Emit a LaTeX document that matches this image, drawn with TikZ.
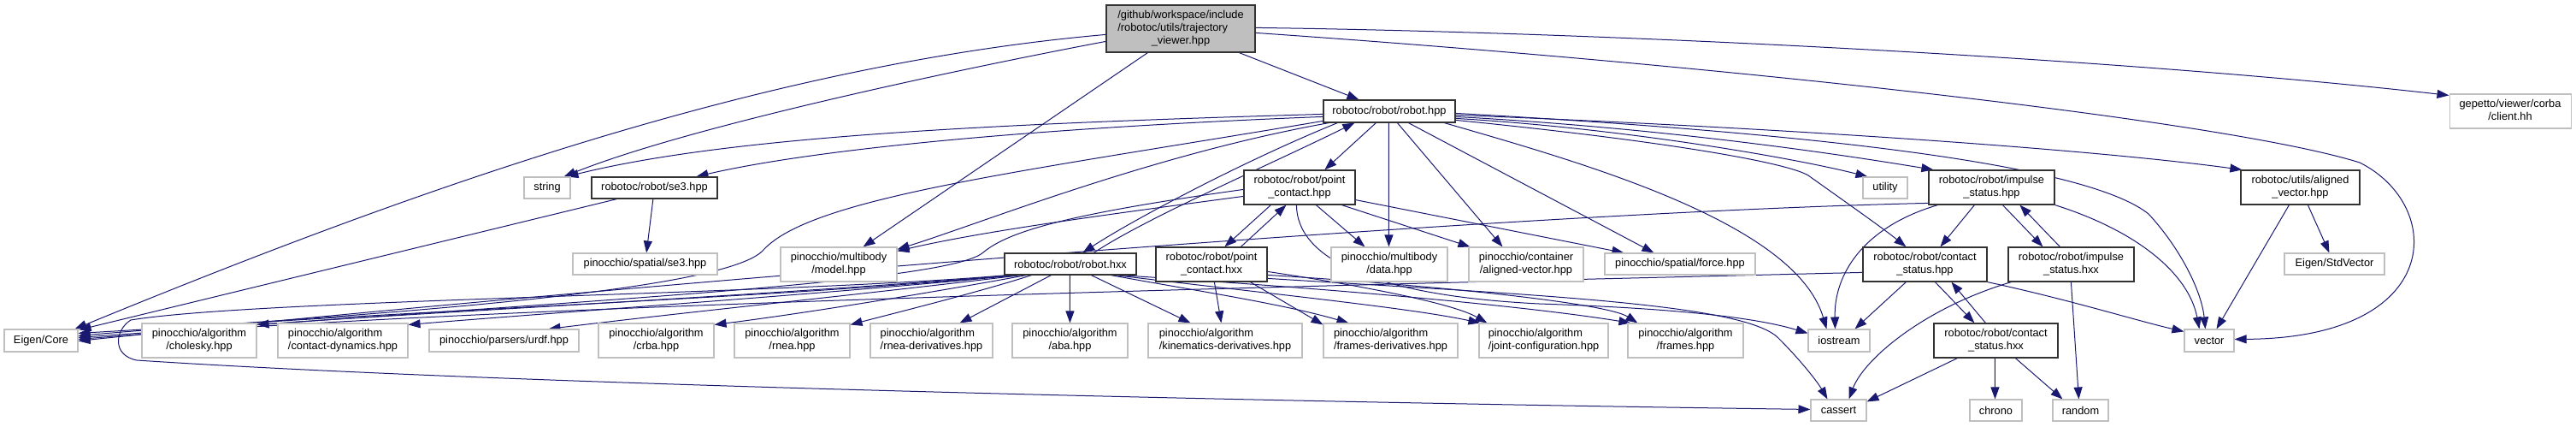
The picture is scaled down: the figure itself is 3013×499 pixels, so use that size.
\documentclass[tikz,border=0pt]{standalone}
\usepackage{fontspec}
\setmainfont{Liberation Sans}
\usetikzlibrary{arrows.meta,calc}
\definecolor{edgec}{HTML}{191970}
\definecolor{gborder}{HTML}{BFBFBF}
\definecolor{tfill}{HTML}{BFBFBF}
\newcommand\dfont{\fontsize{9.6}{11.25}\selectfont}
\newcommand\twol[2]{\begin{tabular}{@{}l@{}}#1\\\multicolumn{1}{@{}c@{}}{#2}\end{tabular}}
\newcommand\threel[3]{\begin{tabular}{@{}l@{}}#1\\#2\\\multicolumn{1}{@{}c@{}}{#3}\end{tabular}}
\newcommand\dnode[7]{\node[#6, minimum width={0.75*(#4-#2)}, minimum height={0.75*(#5-#3)}] (#1) at ({(#2+#4)/2},{(#3+#5)/2}) {#7};}
\pgfdeclarelayer{bg}
\pgfsetlayers{bg,main}
\begin{document}
\begin{tikzpicture}[x=0.75pt,y=-0.75pt,
  gbox/.style={draw=gborder, line width=0.8pt, fill=white, inner sep=0pt, font=\dfont, text=black},
  bbox/.style={draw=black!80, line width=0.9pt, fill=white, inner sep=0pt, font=\dfont, text=black},
  tbox/.style={bbox, fill=tfill},
  dep/.style={draw=edgec, line width=0.75pt, -{Triangle[length=10.5pt,width=7.5pt]}}]
\useasboundingbox (0,0) rectangle (3013,499);
% nodes
\dnode{T}{1294}{6}{1468}{61}{tbox}{\threel{/github/workspace/include}{/robotoc/utils/trajectory}{\_viewer.hpp}}
\dnode{R}{1548}{117}{1702}{143}{bbox}{robotoc/robot/robot.hpp}
\dnode{str}{613}{207}{667}{232}{gbox}{string}
\dnode{se3}{692}{207}{839}{232}{bbox}{robotoc/robot/se3.hpp}
\dnode{gep}{2865}{110}{3007}{150}{gbox}{\twol{gepetto/viewer/corba}{/client.hh}}
\dnode{util}{2179}{207}{2231}{232}{gbox}{utility}
\dnode{imph}{2256}{199}{2403}{239}{bbox}{\twol{robotoc/robot/impulse}{\_status.hpp}}
\dnode{alv}{2621}{199}{2760}{239}{bbox}{\twol{robotoc/utils/aligned}{\_vector.hpp}}
\dnode{pch}{1455}{199}{1585}{239}{bbox}{\twol{robotoc/robot/point}{\_contact.hpp}}
\dnode{eig}{5}{385}{91}{411}{gbox}{Eigen/Core}
\dnode{chol}{166}{378}{300}{418}{gbox}{\twol{pinocchio/algorithm}{/cholesky.hpp}}
\dnode{cdyn}{325}{378}{477}{418}{gbox}{\twol{pinocchio/algorithm}{/contact-dynamics.hpp}}
\dnode{pse3}{670}{296}{839}{321}{gbox}{pinocchio/spatial/se3.hpp}
\dnode{model}{913}{289}{1049}{329}{gbox}{\twol{pinocchio/multibody}{/model.hpp}}
\dnode{urdf}{502}{385}{677}{411}{gbox}{pinocchio/parsers/urdf.hpp}
\dnode{crba}{700}{378}{835}{418}{gbox}{\twol{pinocchio/algorithm}{/crba.hpp}}
\dnode{rnea}{859}{378}{994}{418}{gbox}{\twol{pinocchio/algorithm}{/rnea.hpp}}
\dnode{rnead}{1018}{378}{1161}{418}{gbox}{\twol{pinocchio/algorithm}{/rnea-derivatives.hpp}}
\dnode{aba}{1184}{378}{1319}{418}{gbox}{\twol{pinocchio/algorithm}{/aba.hpp}}
\dnode{kind}{1343}{378}{1523}{418}{gbox}{\twol{pinocchio/algorithm}{/kinematics-derivatives.hpp}}
\dnode{hxx}{1175}{296}{1329}{321}{bbox}{robotoc/robot/robot.hxx}
\dnode{pcx}{1352}{289}{1482}{329}{bbox}{\twol{robotoc/robot/point}{\_contact.hxx}}
\dnode{data}{1557}{289}{1693}{329}{gbox}{\twol{pinocchio/multibody}{/data.hpp}}
\dnode{pav}{1718}{289}{1852}{329}{gbox}{\twol{pinocchio/container}{/aligned-vector.hpp}}
\dnode{force}{1877}{296}{2053}{321}{gbox}{pinocchio/spatial/force.hpp}
\dnode{frd}{1548}{378}{1705}{418}{gbox}{\twol{pinocchio/algorithm}{/frames-derivatives.hpp}}
\dnode{jc}{1730}{378}{1881}{418}{gbox}{\twol{pinocchio/algorithm}{/joint-configuration.hpp}}
\dnode{frm}{1904}{378}{2039}{418}{gbox}{\twol{pinocchio/algorithm}{/frames.hpp}}
\dnode{csh}{2179}{289}{2324}{329}{bbox}{\twol{robotoc/robot/contact}{\_status.hpp}}
\dnode{isx}{2349}{289}{2496}{329}{bbox}{\twol{robotoc/robot/impulse}{\_status.hxx}}
\dnode{ios}{2115}{385}{2187}{411}{gbox}{iostream}
\dnode{csx}{2262}{378}{2407}{418}{bbox}{\twol{robotoc/robot/contact}{\_status.hxx}}
\dnode{cas}{2118}{467}{2183}{492}{gbox}{cassert}
\dnode{chr}{2304}{467}{2365}{492}{gbox}{chrono}
\dnode{rnd}{2401}{467}{2466}{492}{gbox}{random}
\dnode{esv}{2672}{296}{2789}{321}{gbox}{Eigen/StdVector}
\dnode{vec}{2555}{385}{2613}{411}{gbox}{vector}
\begin{pgfonlayer}{bg}
% trajectory_viewer
\draw[dep] ($(T.south west)+(156,0)$) -- ($(R.north west)+(42,0)$);
\draw[dep] ($(T.north west)+(0,43)$) .. controls (1100,85) and (800,150) .. ($(str.north west)+(47,0)$);
\draw[dep] ($(T.north west)+(0,35)$) .. controls (900,75) and (500,215) .. ($(eig.north west)+(83,0)$);
\draw[dep] ($(T.south west)+(49,0)$) -- ($(model.north west)+(97,0)$);
\draw[dep] ($(T.north east)+(0,27)$) .. controls (1900,38) and (2500,70) .. ($(gep.north west)+(0,2)$);
\draw[dep] ($(T.north east)+(0,33)$) .. controls (2000,75) and (2600,140) .. (2760,190) .. controls (2860,240) and (2860,395) .. ($(vec.north east)+(0,12)$);
% robot.hpp
\draw[dep] ($(R.north west)+(0,17)$) .. controls (1150,145) and (850,160) .. ($(str.north west)+(50,0)$);
\draw[dep] ($(R.north west)+(0,20)$) .. controls (1200,150) and (950,175) .. ($(se3.north west)+(123,0)$);
\draw[dep] ($(R.north west)+(0,25)$) .. controls (1200,200) and (950,230) .. (893,292) .. controls (860,330) and (600,360) .. ($(eig.north east)+(0,5)$);
\draw[dep] ($(R.south west)+(7,0)$) .. controls (1350,180) and (1150,260) .. ($(model.north east)+(0,3)$);
\draw[dep] ($(R.south west)+(17,0)$) .. controls (1450,190) and (1320,260) .. ($(hxx.north west)+(92,0)$);
\draw[dep] ($(hxx.north west)+(105,0)$) .. controls (1340,255) and (1480,195) .. ($(R.south west)+(37,0)$);
\draw[dep] ($(R.south west)+(62,0)$) -- ($(pch.north west)+(95,0)$);
\draw[dep] ($(R.south west)+(77,0)$) -- ($(data.north west)+(68,0)$);
\draw[dep] ($(R.south west)+(87,0)$) -- ($(pav.north west)+(40,0)$);
\draw[dep] ($(R.south west)+(100,0)$) -- ($(force.north west)+(58,0)$);
\draw[dep] ($(R.north east)+(0,24)$) .. controls (1950,165) and (2090,190) .. (2115,205) .. controls (2150,230) and (2200,265) .. ($(csh.north west)+(51,0)$);
\draw[dep] ($(R.south west)+(142,0)$) .. controls (1850,190) and (2100,260) .. ($(ios.north west)+(22,0)$);
\draw[dep] ($(R.north east)+(0,22)$) .. controls (1900,150) and (2100,185) .. ($(util.north west)+(6,0)$);
\draw[dep] ($(R.north east)+(0,20)$) .. controls (1950,150) and (2150,180) .. ($(imph.north west)+(6,0)$);
\draw[dep] ($(R.north east)+(0,18)$) .. controls (2100,150) and (2450,175) .. ($(alv.north west)+(2,0)$);
\draw[dep] ($(R.north east)+(0,16)$) .. controls (2200,160) and (2450,200) .. (2513,250) .. controls (2550,290) and (2575,340) .. ($(vec.north west)+(25,0)$);
% se3.hpp
\draw[dep] ($(se3.south west)+(30,0)$) -- ($(eig.north east)+(1,1)$);
\draw[dep] (se3) -- (pse3);
% robot.hxx
\draw[dep] ($(hxx.south west)+(8,0)$) .. controls (900,350) and (400,365) .. ($(eig.north east)+(0,8)$);
\draw[dep] ($(hxx.south west)+(12,0)$) .. controls (900,345) and (500,365) .. ($(chol.north east)+(0,2)$);
\draw[dep] ($(hxx.south west)+(16,0)$) .. controls (950,345) and (650,365) .. ($(cdyn.north east)+(0,2)$);
\draw[dep] ($(hxx.south west)+(20,0)$) .. controls (1000,345) and (800,365) .. ($(urdf.north west)+(140,0)$);
\draw[dep] ($(hxx.south west)+(26,0)$) .. controls (1100,340) and (950,365) .. ($(crba.north east)+(0,2)$);
\draw[dep] ($(hxx.south west)+(32,0)$) .. controls (1150,340) and (1050,365) .. ($(rnea.north east)+(0,2)$);
\draw[dep] ($(hxx.south west)+(55,0)$) -- ($(rnead.north west)+(105,0)$);
\draw[dep] ($(hxx.south west)+(77,0)$) -- ($(aba.north west)+(68,0)$);
\draw[dep] ($(hxx.south west)+(102,0)$) -- ($(kind.north west)+(50,0)$);
\draw[dep] ($(hxx.south west)+(125,0)$) .. controls (1400,340) and (1500,355) .. ($(frd.north west)+(30,0)$);
\draw[dep] ($(hxx.south west)+(130,0)$) .. controls (1500,345) and (1650,360) .. ($(jc.north west)+(2,0)$);
\draw[dep] ($(hxx.south west)+(135,0)$) .. controls (1600,340) and (1800,360) .. ($(frm.north west)+(4,0)$);
\draw[dep] ($(hxx.south west)+(4,0)$) .. controls (900,345) and (300,350) .. (153,374) .. controls (135,385) and (130,415) .. (160,421) .. controls (600,450) and (1500,470) .. ($(cas.north west)+(0,12)$);
% point_contact
\draw[dep] ($(pcx.north west)+(100,0)$) -- ($(pch.south west)+(50,0)$);
\draw[dep] ($(pch.south west)+(32,0)$) -- ($(pcx.north west)+(81,0)$);
\draw[dep] ($(pcx.south west)+(69,0)$) -- ($(kind.north west)+(86,0)$);
\draw[dep] ($(pcx.south west)+(111,0)$) -- ($(frd.north west)+(0,2)$);
\draw[dep] ($(pcx.north east)+(0,29)$) .. controls (1600,335) and (1700,355) .. ($(jc.north west)+(10,0)$);
\draw[dep] ($(pcx.north east)+(0,33)$) .. controls (1700,335) and (1880,355) .. ($(frm.north west)+(12,0)$);
\draw[dep] ($(pcx.north east)+(0,37)$) .. controls (1800,345) and (2040,355) .. (2080,395) .. controls (2105,420) and (2125,445) .. ($(cas.north west)+(20,0)$);
\draw[dep] ($(pch.north west)+(0,23)$) .. controls (1250,250) and (1180,270) .. (1150,295) .. controls (1110,330) and (700,350) .. ($(eig.north east)+(0,10)$);
\draw[dep] ($(pch.north west)+(0,31)$) .. controls (1300,250) and (1150,270) .. ($(model.north east)+(0,5)$);
\draw[dep] ($(pch.south west)+(85,0)$) -- ($(data.north west)+(40,0)$);
\draw[dep] ($(pch.south west)+(115,0)$) -- ($(pav.north west)+(2,0)$);
\draw[dep] ($(pch.south east)+(0,-6)$) -- ($(force.north west)+(23,0)$);
\draw[dep] ($(pch.south west)+(62,0)$) .. controls (1517,300) and (1600,345) .. (1800,355) .. controls (1950,360) and (2050,370) .. ($(ios.north west)+(0,5)$);
% contact_status
\draw[dep] ($(csh.north west)+(0,30)$) .. controls (1500,335) and (600,355) .. ($(eig.north east)+(0,12)$);
\draw[dep] ($(csh.south west)+(51,0)$) -- ($(ios.north west)+(55,0)$);
\draw[dep] ($(csh.south west)+(85,0)$) -- ($(csx.north west)+(48,0)$);
\draw[dep] ($(csx.north west)+(61,0)$) -- ($(csh.south west)+(104,0)$);
\draw[dep] (csh.south east) .. controls (2420,350) and (2500,375) .. ($(vec.north west)+(0,3)$);
\draw[dep] ($(csx.south west)+(28,0)$) -- ($(cas.north east)+(0,3)$);
\draw[dep] ($(csx.south west)+(72,0)$) -- ($(chr.north west)+(30,0)$);
\draw[dep] ($(csx.south west)+(96,0)$) -- ($(rnd.north west)+(12,0)$);
% impulse_status
\draw[dep] ($(imph.south west)+(54,0)$) -- ($(csh.north west)+(91,0)$);
\draw[dep] ($(imph.south west)+(11,0)$) .. controls (2180,265) and (2145,320) .. ($(ios.north west)+(32,0)$);
\draw[dep] ($(imph.south west)+(87,0)$) -- ($(isx.north west)+(41,0)$);
\draw[dep] ($(isx.north west)+(61,0)$) -- ($(imph.south west)+(107,0)$);
\draw[dep] (imph.south east) .. controls (2500,270) and (2560,320) .. ($(vec.north west)+(18,0)$);
\draw[dep] ($(imph.north west)+(0,39)$) .. controls (1700,250) and (600,345) .. ($(eig.north east)+(0,14)$);
\draw[dep] ($(isx.south west)+(74,0)$) -- ($(rnd.north west)+(31,0)$);
\draw[dep] ($(isx.south west)+(4,0)$) .. controls (2250,360) and (2180,420) .. ($(cas.north west)+(45,0)$);
% aligned_vector
\draw[dep] ($(alv.south west)+(57,0)$) -- ($(vec.north west)+(38,0)$);
\draw[dep] ($(alv.south west)+(79,0)$) -- ($(esv.north west)+(53,0)$);
\end{pgfonlayer}
\end{tikzpicture}
\end{document}
